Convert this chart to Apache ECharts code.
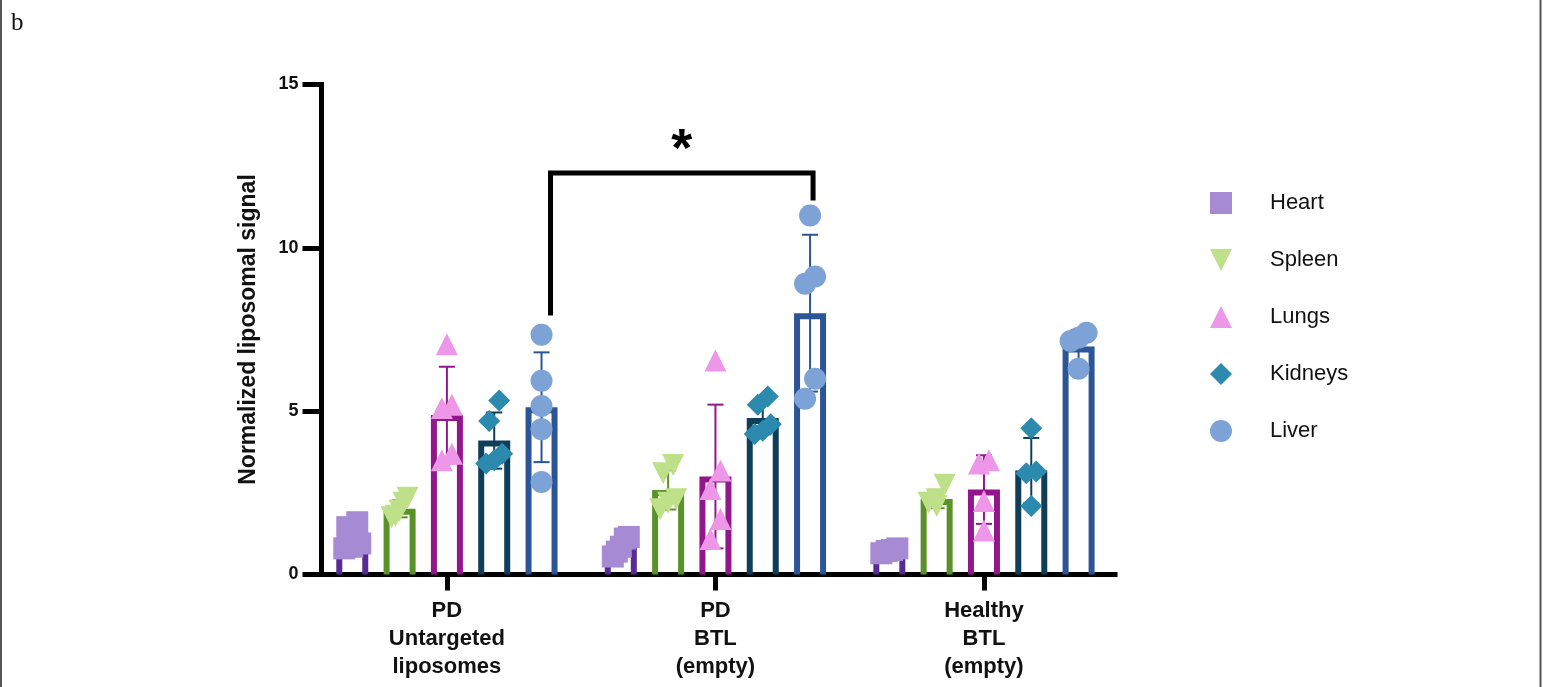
<!DOCTYPE html>
<html>
<head>
<meta charset="utf-8">
<script src="https://cdn.jsdelivr.net/npm/echarts@6/dist/echarts.min.js"></script>
<style>
  html, body { margin: 0; padding: 0; background: #ffffff; }
  #chart { width: 1546px; height: 687px; }
</style>
</head>
<body>
<div id="chart"></div>
<script>
// Treatment groups along the x axis
const groups = ['PD\nUntargeted\nliposomes', 'PD\nBTL\n(empty)', 'Healthy\nBTL\n(empty)'];
// Organs (one bar + scatter per organ inside each group)
const organs = ['Heart', 'Spleen', 'Lungs', 'Kidneys', 'Liver'];
const yTicks = [0, 5, 10, 15];

// Individual measurements per organ, per group
const heartPoints  = [[1.6, 1.45, 0.95, 0.85, 0.8], [1.15, 1.1, 0.85, 0.7, 0.55], [0.8, 0.75, 0.72, 0.65]];
const spleenPoints = [[2.35, 2.2, 1.95, 1.8, 1.75], [3.35, 3.1, 2.3, 2.2, 2.0], [2.75, 2.3, 2.2, 2.1]];
const lungsPoints  = [[7.05, 5.2, 5.1, 3.7, 3.5], [6.55, 3.18, 2.62, 1.7, 1.09], [3.5, 3.4, 2.25, 1.35]];
const kidneyPoints = [[5.33, 4.7, 3.7, 3.5, 3.4], [5.45, 5.2, 4.6, 4.4, 4.3], [4.48, 3.15, 3.1, 2.1]];
const liverPoints  = [[7.34, 5.93, 5.16, 4.45, 2.83], [10.99, 9.12, 8.9, 5.99, 5.38], [7.4, 7.25, 7.15, 6.3]];

// Group means (bar heights) per organ
const heartMean  = [1.13, 0.88, 0.75];
const spleenMean = [2.01, 2.59, 2.31];
const lungsMean  = [4.88, 3.0, 2.6];
const kidneyMean = [4.1, 4.79, 3.18];
const liverMean  = [5.12, 8.0, 6.98];

// Standard deviations (error bars) per organ
const heartSD  = [0.37, 0.26, 0.06];
const spleenSD = [0.26, 0.6, 0.28];
const lungsSD  = [1.48, 2.2, 1.05];
const kidneySD = [0.86, 0.5, 1.0];
const liverSD  = [1.68, 2.4, 0.5];

// Significance bracket: Liver, PD Untargeted vs PD BTL
const sigFromGroup = 0, sigToGroup = 1, sigOrgan = 4;
const sigBarLevel = 12.29, sigLeftEnd = 7.93, sigRightEnd = 11.45, sigLabel = '*';

// ---- styling / layout ----
const barColors   = ['#582a93', '#5a9129', '#93178c', '#0f3e58', '#2b5596'];
const pointColors = ['#a68ad3', '#bde088', '#ee96e8', '#2b8aae', '#7ca2d6'];
const symbols     = ['rect', 'triangle', 'triangle', 'diamond', 'circle'];
const symbolRot   = [0, 180, 0, 0, 0];
const legendIcons = ['rect', 'path://M0,0L22,0L11,22Z', 'triangle', 'diamond', 'circle'];
const FONT = '"Liberation Sans", Arial, Helvetica, sans-serif';
const X_MIN = -0.467, X_MAX = 2.488;
const SLOT = 0.1762;        // spacing between organ bars, in group units
const PX_PER_UNIT = 490 / 15;

const pointsByOrgan = [heartPoints, spleenPoints, lungsPoints, kidneyPoints, liverPoints];
const meanByOrgan = [heartMean, spleenMean, lungsMean, kidneyMean, liverMean];
const sdByOrgan = [heartSD, spleenSD, lungsSD, kidneySD, liverSD];

// Spread points sideways when they sit close to the first point of their cluster
function spreadOffsets(vals) {
  const order = vals.map((v, i) => i).sort((a, b) => vals[b] - vals[a]);
  const offs = new Array(vals.length).fill(0);
  let cluster = [order[0]];
  const flush = () => {
    const n = cluster.length;
    if (n > 1) {
      const step = n === 2 ? 10 : 16 / (n - 1);
      cluster.forEach((idx, j) => { offs[idx] = ((n - 1) / 2 - j) * step; });
    }
  };
  for (let j = 1; j < order.length; j++) {
    const head = cluster[0], cur = order[j];
    if ((vals[head] - vals[cur]) * PX_PER_UNIT < 21) cluster.push(cur);
    else { flush(); cluster = [cur]; }
  }
  flush();
  return offs;
}

const barData = [];
organs.forEach((o, k) => {
  groups.forEach((g, gi) => barData.push([gi, k, meanByOrgan[k][gi], sdByOrgan[k][gi]]));
});

function renderBar(params, api) {
  const g = api.value(0), k = api.value(1), mean = api.value(2), sd = api.value(3);
  const xv = g + (k - 2) * SLOT;
  const top = api.coord([xv, mean]);
  const base = api.coord([xv, 0]);
  const cx = top[0], half = 13, sw = 6;
  const color = barColors[k];
  const hi = api.coord([xv, mean + sd])[1];
  const lo = api.coord([xv, Math.max(0, mean - sd)])[1];
  return {
    type: 'group',
    children: [
      { type: 'polyline',
        shape: { points: [[cx - half, base[1]], [cx - half, top[1] + sw / 2], [cx + half, top[1] + sw / 2], [cx + half, base[1]]] },
        style: { fill: 'none', stroke: color, lineWidth: sw, lineJoin: 'miter' } },
      { type: 'line', shape: { x1: cx, y1: hi, x2: cx, y2: lo }, style: { stroke: color, lineWidth: 2 } },
      { type: 'line', shape: { x1: cx - 8, y1: hi, x2: cx + 8, y2: hi }, style: { stroke: color, lineWidth: 2 } },
      { type: 'line', shape: { x1: cx - 8, y1: lo, x2: cx + 8, y2: lo }, style: { stroke: color, lineWidth: 2 } }
    ]
  };
}

function renderBracket(params, api) {
  const xl = sigFromGroup + (sigOrgan - 2) * SLOT;
  const xr = sigToGroup + (sigOrgan - 2) * SLOT;
  const pTopL = api.coord([xl, api.value(0)]);
  const pTopR = api.coord([xr, api.value(0)]);
  const yl = api.coord([xl, api.value(1)])[1];
  const yr = api.coord([xr, api.value(2)])[1];
  const xL = pTopL[0] + 9, xR = pTopR[0] + 3, yb = pTopL[1];
  return {
    type: 'group',
    children: [
      { type: 'polyline', shape: { points: [[xL, yl], [xL, yb], [xR, yb], [xR, yr]] },
        style: { fill: 'none', stroke: '#000', lineWidth: 5, lineJoin: 'miter' } },
      { type: 'text', x: (xL + xR) / 2, y: yb - 22,
        style: { text: sigLabel, font: 'bold 54px ' + FONT, fill: '#000', align: 'center', verticalAlign: 'middle' } }
    ]
  };
}

const series = [
  { type: 'custom', name: 'bars', renderItem: renderBar, data: barData, z: 2, animation: false, silent: true }
];
organs.forEach((o, k) => {
  const data = [];
  groups.forEach((g, gi) => {
    const vals = pointsByOrgan[k][gi];
    const offs = spreadOffsets(vals);
    vals.forEach((v, i) => data.push({ value: [gi + (k - 2) * SLOT, v], symbolOffset: [offs[i], 0] }));
  });
  series.push({
    type: 'scatter', name: o, data,
    symbol: symbols[k], symbolSize: 22, symbolRotate: symbolRot[k],
    itemStyle: { color: pointColors[k], opacity: 1 },
    z: 5, animation: false, silent: true
  });
});
series.push({
  type: 'custom', name: 'significance', renderItem: renderBracket,
  data: [[sigBarLevel, sigLeftEnd, sigRightEnd]], z: 6, animation: false, silent: true
});

const chart = echarts.init(document.getElementById('chart'), null, { renderer: 'canvas' });
chart.setOption({
  backgroundColor: '#ffffff',
  animation: false,
  grid: { left: 321.5, top: 84.5, width: 793.5, height: 490 },
  xAxis: {
    type: 'value', min: X_MIN, max: X_MAX,
    splitLine: { show: false },
    axisLine: { show: true, onZero: false, lineStyle: { color: '#000', width: 5, cap: 'square' } },
    axisTick: { show: true, customValues: [0, 1, 2], length: 16, lineStyle: { color: '#000', width: 5 } },
    axisLabel: {
      customValues: [0, 1, 2], margin: 22,
      formatter: v => groups[Math.round(v)],
      fontFamily: FONT, fontWeight: 'bold', fontSize: 22, lineHeight: 28, color: '#111', align: 'center'
    }
  },
  yAxis: {
    type: 'value', min: 0, max: 15, interval: 5,
    name: 'Normalized liposomal signal', nameLocation: 'middle', nameRotate: 90, nameGap: 61,
    nameTextStyle: { fontFamily: FONT, fontWeight: 'bold', fontSize: 23, color: '#111' },
    splitLine: { show: false },
    axisLine: { show: true, onZero: false, lineStyle: { color: '#000', width: 5, cap: 'square' } },
    axisTick: { show: true, length: 19, lineStyle: { color: '#000', width: 5 } },
    axisLabel: {
      margin: 23, fontFamily: FONT, fontWeight: 'bold', fontSize: 18, color: '#111',
      formatter: v => (yTicks.indexOf(v) >= 0 ? String(v) : '')
    }
  },
  legend: {
    orient: 'vertical', left: 1205, top: 187,
    itemWidth: 22, itemHeight: 22, itemGap: 35,
    selectedMode: false,
    data: organs.map((o, k) => ({ name: o, icon: legendIcons[k], itemStyle: { color: pointColors[k] } })),
    textStyle: { fontFamily: FONT, fontSize: 22, color: '#111', lineHeight: 22, padding: [0, 0, 0, 33] }
  },
  graphic: [
    { type: 'text', left: 11, top: 11, style: { text: 'b', font: '25px "Liberation Serif", "Times New Roman", serif', fill: '#111' } },
    { type: 'line', shape: { x1: 1, y1: 0, x2: 1, y2: 687 }, style: { stroke: '#555', lineWidth: 2 } },
    { type: 'line', shape: { x1: 1540.5, y1: 0, x2: 1540.5, y2: 687 }, style: { stroke: '#555', lineWidth: 2 } }
  ],
  series
});
</script>
</body>
</html>
